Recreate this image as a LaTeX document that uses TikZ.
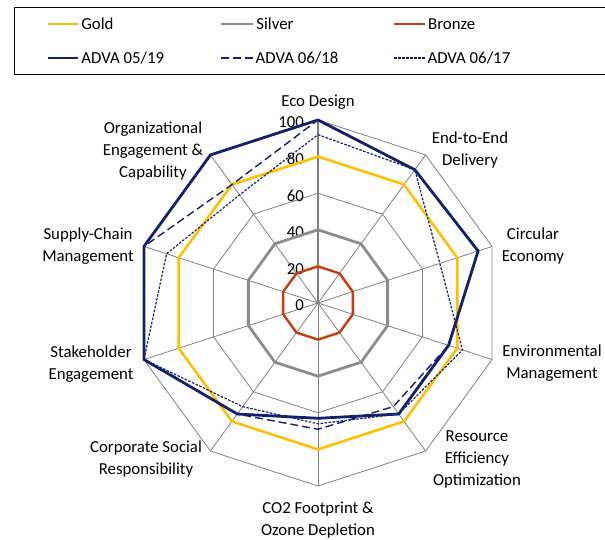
\documentclass[tikz,border=0pt]{standalone}
\usepackage{fontspec}
\setmainfont{Carlito}
\usepackage{tikz}
\usetikzlibrary{arrows.meta}
\definecolor{goldc}{HTML}{FFC000}
\definecolor{silverc}{RGB}{140,140,140}
\definecolor{bronzec}{RGB}{200,60,10}
\definecolor{advac}{RGB}{18,32,110}
\definecolor{gridc}{RGB}{128,128,128}

\begin{document}
\begin{tikzpicture}[x=1pt,y=1pt,
	lbl/.style={align=center, inner sep=0pt, font=\fontsize{16.8}{22}\selectfont},
	legtext/.style={anchor=west, inner sep=2pt, font=\fontsize{16.8}{20}\selectfont},
	gridline/.style={draw=gridc, line width=0.8pt},
	goldline/.style={draw=goldc, line width=2.6pt},
	silverline/.style={draw=silverc, line width=2.8pt},
	bronzeline/.style={draw=bronzec, line width=2.4pt},
	newline/.style={draw=advac, line width=2.8pt},
	midline/.style={draw=advac, line width=1.4pt, dash pattern=on 8pt off 4pt},
	oldline/.style={draw=advac, line width=1.2pt, dash pattern=on 2.5pt off 1.5pt}]
	
	% Fix canvas
	\useasboundingbox (0,0) rectangle (605,540);
	
	% Legend frame
	\draw[line width=0.8pt] (605,533) -- (14,533) -- (14,466) -- (605,466);
	
	% Legend entries
	\draw[goldline] (48,516) -- (78,516) node[legtext, text=black] (leggold) {Gold};
	\draw[silverline] (221,516) -- (253,516) node[legtext, text=black] (legsilver) {Silver};
	\draw[bronzeline] (394,516) -- (425,516) node[legtext, text=black] (legbronze) {Bronze};
	\draw[newline] (48,482) -- (78,482) node[legtext, text=black] (legnew) {ADVA 05/19};
	\draw[midline] (221,482) -- (253,482) node[legtext, text=black] (legmid) {ADVA 06/18};
	\draw[oldline] (394,482) -- (425,482) node[legtext, text=black] (legold) {ADVA 06/17};
	
	\begin{scope}[shift={(318,237)}, x=1.83pt, y=1.83pt]
		
		% Draw rings
		\foreach \r in {20,40,...,100}
			\draw[gridline] (90:\r) \foreach \a in {54,18,...,-234} { -- (\a:\r) } -- cycle;
		
		% Draw spokes
		\foreach \a in {54,18,...,-234}
			\draw[gridline] (0,0) -- (\a:100);
		\draw[draw=gridc, line width=1.6pt] (0,0) -- (90:100);
		
		% Scale labels
		\foreach \v in {0,20,...,100}
			\node[lbl, anchor=east] (tick\v) at (-7.6,\v-1.4) {\v};
		
		% Reference levels
		\draw[goldline, line join=round] (90:80) \foreach \a in {54,18,...,-234} { -- (\a:80) } -- cycle;
		\draw[silverline, line join=round] (90:40) \foreach \a in {54,18,...,-234} { -- (\a:40) } -- cycle;
		\draw[bronzeline, line join=round] (90:20) \foreach \a in {54,18,...,-234} { -- (\a:20) } -- cycle;
		
		% ADVA scores
		\draw[newline, line join=round] (90:100) -- (54:90) -- (18:92) -- (-18:75) -- (-54:75) -- (-90:63) -- (-126:75) -- (-162:100) -- (-198:100) -- (-234:100) -- cycle;
		\draw[midline] (90:100) -- (54:90) -- (18:92) -- (-18:75) -- (-54:70) -- (-90:69) -- (-126:75) -- (-162:100) -- (-198:100) -- (-234:80) -- cycle;
		\draw[oldline] (90:92) -- (54:90) -- (18:70) -- (-18:83) -- (-54:75) -- (-90:66) -- (-126:70) -- (-162:100) -- (-198:87) -- (-234:73) -- cycle;
		
	\end{scope}
	
	% Axis labels
	\node[lbl] (eco) at (318,438) {Eco Design};
	\node[lbl] (delivery) at (470,390) {End-to-End\\Delivery};
	\node[lbl] (circular) at (533,294) {Circular\\Economy};
	\node[lbl] (environ) at (552,177) {Environmental\\Management};
	\node[lbl] (resource) at (477,81) {Resource\\Efficiency\\Optimization};
	\node[lbl] (footprint) at (318,20) {CO2 Footprint \&\\Ozone Depletion};
	\node[lbl] (social) at (146,81) {Corporate Social\\Responsibility};
	\node[lbl] (stakeholder) at (91,176) {Stakeholder\\Engagement};
	\node[lbl] (supply) at (88,294) {Supply-Chain\\Management};
	\node[lbl] (organiz) at (153,389) {Organizational\\Engagement \&\\Capability};
	
\end{tikzpicture}
\end{document}
